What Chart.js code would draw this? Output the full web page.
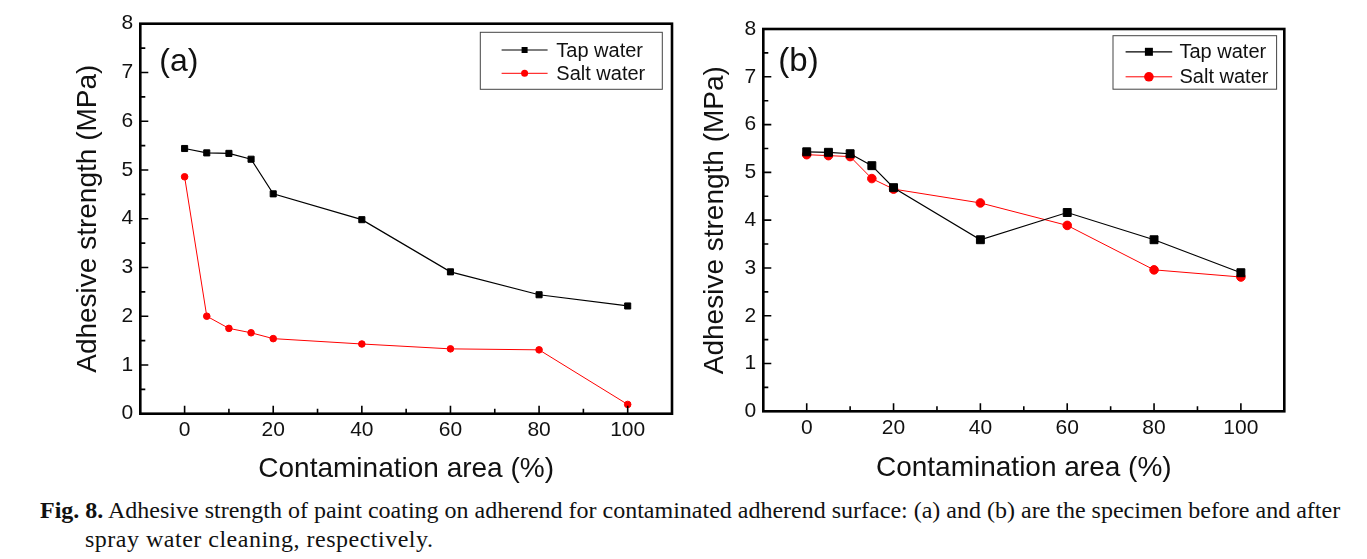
<!DOCTYPE html>
<html>
<head>
<meta charset="utf-8">
<script src="https://cdn.jsdelivr.net/npm/chart.js@4.4.0/dist/chart.umd.min.js"></script>
<style>
  html, body { margin:0; padding:0; background:#fff; }
  body { width:1367px; height:559px; position:relative; overflow:hidden; }
  #wa { position:absolute; left:0; top:0; width:690px; height:490px; }
  #wb { position:absolute; left:690px; top:0; width:677px; height:490px; }
  .cap { position:absolute; font-family:"Liberation Serif","DejaVu Serif",serif; font-size:24px; color:#111; white-space:nowrap; }
</style>
</head>
<body>
<div id="wa"><canvas id="ca" width="690" height="490"></canvas></div>
<div id="wb"><canvas id="cb" width="677" height="490"></canvas></div>
<div class="cap" id="cap1" style="left:40px; top:497px;"><b>Fig. 8.</b> Adhesive strength of paint coating on adherend for contaminated adherend surface: (a) and (b) are the specimen before and after</div>
<div class="cap" id="cap2" style="left:85px; top:526px; letter-spacing:0.5px;">spray water cleaning, respectively.</div>
<script>
// ---- data ----
const contaminationArea = [0, 5, 10, 15, 20, 40, 60, 80, 100];
const tapWaterA  = [5.44, 5.35, 5.34, 5.22, 4.51, 3.98, 2.91, 2.44, 2.21];
const saltWaterA = [4.86, 2.00, 1.75, 1.66, 1.54, 1.43, 1.33, 1.31, 0.19];
const tapWaterB  = [5.43, 5.42, 5.39, 5.14, 4.68, 3.59, 4.16, 3.59, 2.90];
const saltWaterB = [5.37, 5.35, 5.33, 4.87, 4.65, 4.36, 3.89, 2.96, 2.81];
const xTickValues = [0, 20, 40, 60, 80, 100];
const xMinorTicks = [10, 30, 50, 70, 90];
const yTickValues = [0, 1, 2, 3, 4, 5, 6, 7, 8];
const yMinorTicks = [0.5, 1.5, 2.5, 3.5, 4.5, 5.5, 6.5, 7.5];
const seriesNames = ['Tap water', 'Salt water'];
const panelLabels = ['(a)', '(b)'];
const xTitle = 'Contamination area (%)';
const yTitle = 'Adhesive strength (MPa)';

const FONT = '"Liberation Sans", Arial, sans-serif';

const framePlugin = {
  id: 'frame',
  afterDraw(chart, args, opts) {
    const ctx = chart.ctx, a = chart.chartArea;
    const xs = chart.scales.x, ys = chart.scales.y;
    ctx.save();
    ctx.strokeStyle = '#000';
    ctx.lineWidth = 1.6;
    // inward ticks
    ctx.beginPath();
    xTickValues.forEach(v => { const p = xs.getPixelForValue(v); ctx.moveTo(p, a.bottom); ctx.lineTo(p, a.bottom - 8); });
    xMinorTicks.forEach(v => { const p = xs.getPixelForValue(v); ctx.moveTo(p, a.bottom); ctx.lineTo(p, a.bottom - 5); });
    yTickValues.forEach(v => { const p = ys.getPixelForValue(v); ctx.moveTo(a.left, p); ctx.lineTo(a.left + 8, p); });
    yMinorTicks.forEach(v => { const p = ys.getPixelForValue(v); ctx.moveTo(a.left, p); ctx.lineTo(a.left + 5, p); });
    ctx.stroke();
    // frame
    ctx.lineWidth = 2.6;
    ctx.strokeRect(a.left, a.top, a.right - a.left, a.bottom - a.top);
    // panel label
    ctx.fillStyle = '#111';
    ctx.font = opts.labelSize + 'px ' + FONT;
    ctx.textBaseline = 'middle';
    ctx.textAlign = 'left';
    ctx.fillText(opts.label, a.left + opts.labelDx, a.top + opts.labelDy);
    // legend box
    const L = opts.legend;
    const bx = a.right - L.right - L.width, by = a.top + L.top;
    ctx.lineWidth = 1;
    ctx.strokeStyle = '#444';
    ctx.strokeRect(bx, by, L.width, L.height);
    ctx.font = '20px ' + FONT;
    chart.data.datasets.forEach((ds, i) => {
      const ry = by + L.rows[i];
      ctx.strokeStyle = ds.borderColor;
      ctx.lineWidth = ds.borderWidth;
      ctx.beginPath();
      ctx.moveTo(bx + L.line0, ry); ctx.lineTo(bx + L.line1, ry); ctx.stroke();
      const mx = (bx + L.line0 + bx + L.line1) / 2;
      ctx.fillStyle = ds.pointBackgroundColor;
      ctx.beginPath();
      if (ds.pointStyle === 'rect') {
        ctx.rect(mx - L.sq / 2, ry - L.sq / 2, L.sq, L.sq);
      } else {
        ctx.arc(mx, ry, L.cr, 0, Math.PI * 2);
      }
      ctx.fill();
      ctx.fillStyle = '#111';
      ctx.fillText(ds.label, bx + L.text, ry + 1);
    });
    ctx.restore();
  }
};

function makeChart(id, tap, salt, geo) {
  return new Chart(document.getElementById(id), {
    type: 'line',
    data: {
      labels: contaminationArea,
      datasets: [
        { label: seriesNames[0], data: contaminationArea.map((x, i) => ({x, y: tap[i]})),
          borderColor: '#000', backgroundColor: '#000', borderWidth: 1.2,
          pointStyle: 'rect', pointRadius: geo.sqR, pointBorderWidth: 1,
          pointBackgroundColor: '#000', pointBorderColor: '#000', tension: 0 },
        { label: seriesNames[1], data: contaminationArea.map((x, i) => ({x, y: salt[i]})),
          borderColor: '#ff0000', backgroundColor: '#ff0000', borderWidth: 1,
          pointStyle: 'circle', pointRadius: geo.cR, pointBorderWidth: 1,
          pointBackgroundColor: '#ff0000', pointBorderColor: '#ff0000', tension: 0 }
      ]
    },
    options: {
      responsive: false, animation: false, devicePixelRatio: 1,
      layout: { padding: { left: 0, top: geo.top, right: geo.right, bottom: 0 } },
      plugins: {
        legend: { display: false }, tooltip: { enabled: false },
        frame: geo.frame
      },
      scales: {
        x: {
          type: 'linear', min: -10, max: 110,
          afterBuildTicks: s => { s.ticks = xTickValues.map(v => ({ value: v })); },
          afterFit: s => { s.height = geo.xH; },
          grid: { display: false, drawTicks: false }, border: { display: false },
          ticks: { color: '#111', font: { family: FONT, size: 21 }, padding: 4, maxRotation: 0, autoSkip: false },
          title: { display: true, text: xTitle, color: '#111', font: { family: FONT, size: 28 }, padding: { top: 0, bottom: geo.xTitlePad } }
        },
        y: {
          type: 'linear', min: 0, max: 8,
          afterBuildTicks: s => { s.ticks = yTickValues.map(v => ({ value: v })); },
          afterFit: s => { s.width = geo.yW; },
          grid: { display: false, drawTicks: false }, border: { display: false },
          ticks: { color: '#111', font: { family: FONT, size: 21 }, padding: 7 },
          title: { display: true, text: yTitle, color: '#111', font: { family: FONT, size: 28 }, padding: { top: geo.yTitlePad, bottom: 0 } }
        }
      }
    },
    plugins: [framePlugin]
  });
}

makeChart('ca', tapWaterA, saltWaterA, {
  top: 23.7, right: 18, xH: 76.3, yW: 140.3, xTitlePad: 4, yTitlePad: 71, sqR: 4.3, cR: 3.3,
  frame: { label: panelLabels[0], labelSize: 32, labelDx: 19, labelDy: 38,
    legend: { right: 9.7, top: 8.6, width: 182, height: 57, rows: [17.7, 41], line0: 21.3, line1: 67.3, text: 76, sq: 6, cr: 3.5 } }
});
makeChart('cb', tapWaterB, saltWaterB, {
  top: 29, right: 82.7, xH: 78.7, yW: 73.3, xTitlePad: 5, yTitlePad: 8, sqR: 5.6, cR: 4.3,
  frame: { label: panelLabels[1], labelSize: 33, labelDx: 15, labelDy: 33,
    legend: { right: 7.7, top: 6.7, width: 163.6, height: 53.5, rows: [16.1, 41.1], line0: 12.6, line1: 59.2, text: 66.5, sq: 8, cr: 4.8 } }
});
</script>
</body>
</html>
